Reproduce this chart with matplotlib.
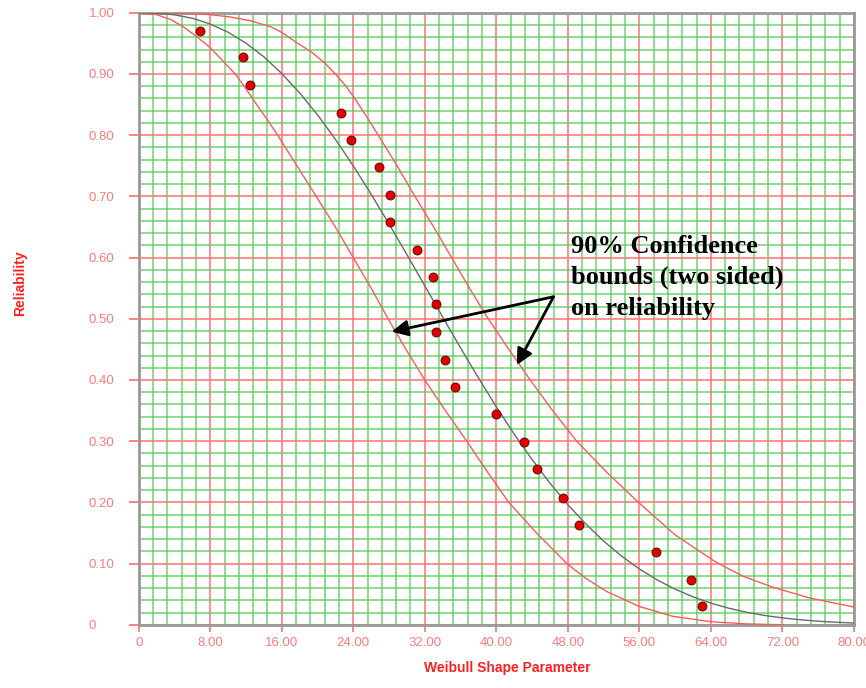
import matplotlib
matplotlib.use("Agg")
import matplotlib.pyplot as plt
from matplotlib.ticker import MultipleLocator, FuncFormatter

# data
shape_param = [6.9, 11.7, 12.4, 22.6, 23.8, 26.9, 28.1, 28.1, 31.1, 32.9, 33.2,
               33.3, 34.3, 35.4, 40.0, 43.1, 44.6, 47.5, 49.3, 57.9, 61.8, 63.0]
reliability = [0.971, 0.927, 0.882, 0.837, 0.792, 0.748, 0.702, 0.658, 0.612, 0.568, 0.524,
               0.478, 0.433, 0.388, 0.344, 0.299, 0.254, 0.208, 0.163, 0.119, 0.074, 0.031]

# fitted line
fit_t = [0, 2, 4, 6, 8, 10, 12, 14, 16, 18, 20, 22, 24, 26, 28, 30, 32, 34, 36, 38, 40,
         42, 44, 46, 48, 50, 52, 54, 56, 58, 60, 62, 64, 66, 68, 70, 72, 74, 76, 78, 80]
fit_r = [1.0, 0.9994, 0.9967, 0.9911, 0.9817, 0.9683, 0.9504, 0.9280, 0.9008, 0.8692,
         0.8333, 0.7933, 0.7499, 0.7036, 0.6550, 0.6049, 0.5539, 0.5029, 0.4525, 0.4035,
         0.3563, 0.3116, 0.2700, 0.2314, 0.1963, 0.1649, 0.1369, 0.1124, 0.0913, 0.0733,
         0.0582, 0.0457, 0.0354, 0.0271, 0.0205, 0.0153, 0.0113, 0.0082, 0.0059, 0.0042, 0.0029]

# 90% two sided bounds
upper_t = [0, 4, 8, 10.3, 12.5, 14.8, 16.0, 17.8, 19.4, 20.8, 22.0, 23.2, 24.4, 25.6, 26.8,
           28.9, 30.9, 33.0, 35.0, 37.0, 39.1, 41.4, 43.8, 46.3, 49.0, 52.3, 55.9, 60.0,
           64.5, 67.5, 70.8, 75.0, 80.0]
upper_r = [1.0, 0.9995, 0.997, 0.993, 0.987, 0.977, 0.968, 0.950, 0.935, 0.918, 0.900, 0.880,
           0.855, 0.828, 0.800, 0.750, 0.700, 0.650, 0.600, 0.550, 0.500, 0.450, 0.400, 0.350,
           0.300, 0.250, 0.200, 0.147, 0.103, 0.080, 0.062, 0.044, 0.029]
lower_t = [0, 2, 3.6, 5.0, 6.4, 8.0, 9.5, 10.8, 12.0, 13.2, 14.4, 15.55, 17.7, 19.85, 22.0,
           24.0, 26.0, 27.9, 29.9, 32.0, 34.3, 36.7, 39.0, 41.4, 44.5, 47.9, 50.0, 52.4, 56.0,
           59.7, 64.0, 68.0, 72.0]
lower_r = [1.0, 0.997, 0.989, 0.977, 0.962, 0.943, 0.920, 0.900, 0.876, 0.850, 0.825, 0.800,
           0.750, 0.700, 0.650, 0.600, 0.550, 0.500, 0.450, 0.400, 0.350, 0.300, 0.250, 0.200,
           0.150, 0.100, 0.076, 0.054, 0.030, 0.014, 0.005, 0.0015, 0.0]

LABEL_RED = "#ff7c7c"
GRID_RED = "#ff7070"
GRID_GREEN = "#4fc94f"
SPINE = "#999999"

fig = plt.figure(figsize=(8.66, 6.88), dpi=100)
ax = fig.add_axes([138.7 / 866, 1 - 624.8 / 688, (853.9 - 138.7) / 866, (624.8 - 12.8) / 688])

ax.set_xlim(0, 80)
ax.set_ylim(0, 1)

# grid
ax.xaxis.set_major_locator(MultipleLocator(8))
ax.xaxis.set_minor_locator(MultipleLocator(1.6))
ax.yaxis.set_major_locator(MultipleLocator(0.1))
ax.yaxis.set_minor_locator(MultipleLocator(0.02))
ax.grid(which="minor", color=GRID_GREEN, lw=1.1, alpha=0.8)
ax.grid(which="major", color=GRID_RED, lw=1.2, alpha=0.9)
ax.set_axisbelow(True)

ax.xaxis.set_major_formatter(FuncFormatter(lambda v, p: "0" if v == 0 else f"{v:.2f}"))
ax.yaxis.set_major_formatter(FuncFormatter(lambda v, p: "0" if abs(v) < 1e-9 else f"{v:.2f}"))

ax.tick_params(which="minor", length=0)
ax.tick_params(axis="x", which="major", length=5, width=1.2, color=GRID_RED, pad=4,
               labelsize=9.5, labelcolor=LABEL_RED)
ax.tick_params(axis="y", which="major", length=7.2, width=1.2, color=GRID_RED, pad=28.6,
               labelsize=9.5, labelcolor=LABEL_RED)
for lab in ax.get_yticklabels():
    lab.set_horizontalalignment("left")
for lab in ax.get_xticklabels() + ax.get_yticklabels():
    lab.set_fontfamily("Liberation Sans")
ax.xaxis.get_major_ticks()[0].tick1line.set_color(SPINE)
ax.yaxis.get_major_ticks()[0].tick1line.set_color(SPINE)

for s in ax.spines.values():
    s.set_color(SPINE)
    s.set_linewidth(2)

# curves
ax.plot(upper_t, upper_r, color="#ff5a5a", lw=1.0, zorder=3)
ax.plot(lower_t, lower_r, color="#ff5a5a", lw=1.0, zorder=3)
ax.plot(fit_t, fit_r, color="#6a6a6a", lw=1.0, zorder=4)
ax.plot(shape_param, reliability, "o", ms=6.5, mfc="#e00000", mec="#5a0000", mew=0.6,
        zorder=5, clip_on=False)

# annotation
arrow = dict(arrowstyle="-|>", mutation_scale=24, lw=2, color="black", shrinkA=0, shrinkB=0)
ax.annotate("", xy=(28.3, 0.479), xytext=(46.4, 0.536), arrowprops=arrow, zorder=6)
ax.annotate("", xy=(42.3, 0.4245), xytext=(46.4, 0.536), arrowprops=arrow, zorder=6)
fig.text(571 / 866, 1 - 235 / 688, "90% Confidence\nbounds (two sided)\non reliability",
         family="Liberation Serif", weight="bold", fontsize=19, va="top", ha="left",
         linespacing=1.43, color="black")

fig.text(507 / 866, 1 - 668 / 688, "Weibull Shape Parameter", family="Liberation Sans",
         weight="bold", fontsize=10, color="#ff2020", ha="center", va="center")
fig.text(20 / 866, 1 - 283 / 688, "Reliability", family="Liberation Sans", weight="bold",
         fontsize=10, color="#ff2020", ha="center", va="center", rotation=90)

fig.savefig("out.png", dpi=100)
